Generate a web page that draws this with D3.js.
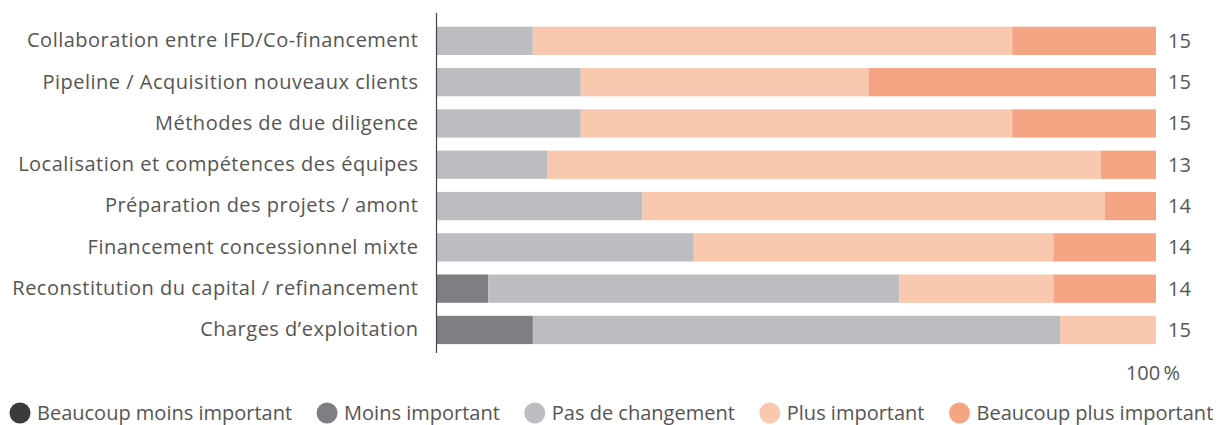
<!DOCTYPE html>
<html>
<head>
<meta charset="utf-8">
<script src="https://cdn.jsdelivr.net/npm/d3@7"></script>
<style>
  body { margin: 0; background: #fff; }
  svg { display: block; font-family: "Open Sans", "Noto Sans", sans-serif; }
</style>
</head>
<body>
<svg width="1223" height="425"></svg>
<script>
'use strict';

var categories = [
    'Collaboration entre IFD/Co-financement',
    'Pipeline / Acquisition nouveaux clients',
    'Méthodes de due diligence',
    'Localisation et compétences des équipes',
    'Préparation des projets / amont',
    'Financement concessionnel mixte',
    'Reconstitution du capital / refinancement',
    'Charges d\u2019exploitation'
];

var seriesNames = ['Beaucoup moins important', 'Moins important', 'Pas de changement', 'Plus important', 'Beaucoup plus important'];

// answer counts per category
var beaucoupMoins = [0, 0, 0, 0, 0, 0, 0, 0];
var moins         = [0, 0, 0, 0, 0, 0, 1, 2];
var pasChangement = [2, 3, 3, 2, 4, 5, 8, 11];
var plus          = [10, 6, 9, 10, 9, 7, 3, 2];
var beaucoupPlus  = [3, 6, 3, 1, 1, 2, 2, 0];
var respondents   = [15, 15, 15, 13, 14, 14, 14, 15];

var colors = ['#3b3b3d', '#7f7f83', '#bcbdc0', '#f9c8ae', '#f6a584'];

var seriesValues = [beaucoupMoins, moins, pasChangement, plus, beaucoupPlus];

var rows = categories.map(function(c, i){
    var row = {name: c, n: respondents[i]};
    seriesNames.forEach(function(s, j){ row[s] = seriesValues[j][i] / respondents[i]; });
    return row;
});

var stacked = d3.stack().keys(seriesNames)(rows);

var svg = d3.select('svg');
var fontSize = '20px';

var x = d3.scaleLinear()
            .domain([0, 1])
            .range([437, 1156]);

var y = d3.scaleBand()
            .domain(categories)
            .range([14.3, 356.5])
            .paddingInner(0.315)
            .paddingOuter(0.3);

var colorScale = d3.scaleOrdinal()
            .domain(seriesNames)
            .range(colors);

svg.append('g').selectAll('g')
    .data(stacked)
    .enter().append('g')
        .attr('fill', function(d){ return colorScale(d.key); })
    .selectAll('rect')
    .data(function(d){ return d; })
    .enter().append('rect')
        .attr('x', function(d){ return x(d[0]); })
        .attr('y', function(d){ return y(d.data.name); })
        .attr('width', function(d){ return x(d[1]) - x(d[0]); })
        .attr('height', y.bandwidth());

// left axis: only the line and labels
var yAxis = d3.axisLeft(y).tickSize(0).tickPadding(18);
var axisGroup = svg.append('g')
        .attr('transform', 'translate(' + 436.5 + ',0)')
        .call(yAxis);
axisGroup.select('.domain')
        .attr('d', 'M0,13V353')
        .attr('stroke', '#444')
        .attr('stroke-width', 1.2);
axisGroup.selectAll('text')
        .attr('font-size', fontSize)
        .attr('font-family', '"Open Sans", "Noto Sans", sans-serif')
        .attr('letter-spacing', '0.5px')
        .attr('fill', '#555');

// respondent counts on the right
svg.append('g').selectAll('text')
    .data(rows)
    .enter().append('text')
        .attr('x', 1168)
        .attr('y', function(d){ return y(d.name) + y.bandwidth() / 2; })
        .attr('dy', '0.35em')
        .attr('font-size', fontSize)
        .attr('fill', '#555')
        .text(function(d){ return d.n; });

svg.append('text')
    .attr('x', 1153)
    .attr('y', 380)
    .attr('text-anchor', 'middle')
    .attr('font-size', fontSize)
    .attr('fill', '#555')
    .text('100\u2009%');

// legend
var legend = svg.append('g').attr('transform', 'translate(0,413)');
var lx = 9;
seriesNames.forEach(function(s){
    var item = legend.append('g').attr('transform', 'translate(' + lx + ',0)');
    item.append('circle')
        .attr('cx', 11)
        .attr('cy', 0)
        .attr('r', 10.5)
        .attr('fill', colorScale(s));
    var t = item.append('text')
        .attr('x', 28)
        .attr('dy', '0.35em')
        .attr('font-size', fontSize)
        .attr('fill', '#555')
        .text(s);
    lx += 28 + t.node().getComputedTextLength() + 24;
});
</script>
</body>
</html>
